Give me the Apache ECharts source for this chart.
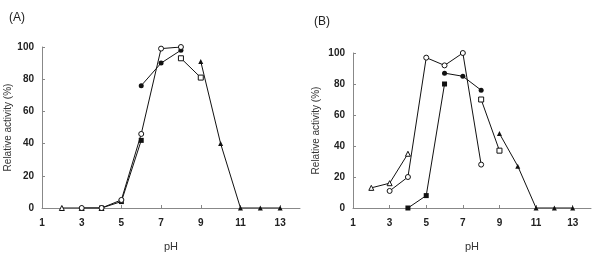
<!DOCTYPE html>
<html>
<head>
    <meta charset="UTF-8">
    <title>pH activity</title>
    <script type="text/javascript" src="https://cdn.jsdelivr.net/npm/echarts@6/dist/echarts.min.js"></script>
    <style>
        html, body { margin: 0; padding: 0; background: #fff; }
    </style>
</head>
<body>
<div id="main" style="width: 593px;height:257px;"></div>
<script type="text/javascript">
    // tick labels
    var xTicks = [1, 3, 5, 7, 9, 11, 13];
    var yTicks = [0, 20, 40, 60, 80, 100];

    // panel (A)
    var aTriOpen = [[2, 0], [3, 0], [4, 0]];
    var aCircleOpen = [[3, 0], [4, 0], [5, 5], [6, 46], [7, 99], [8, 100]];
    var aSquareSolid = [[4, 0], [5, 4], [6, 42]];
    var aCircleSolid = [[6, 76], [7, 90], [8, 98]];
    var aSquareOpen = [[8, 93], [9, 81]];
    var aTriSolid = [[9, 91], [10, 40], [11, 0], [12, 0], [13, 0]];

    // panel (B)
    var bTriOpen = [[2, 13], [3, 16], [4, 35]];
    var bCircleOpen = [[3, 11], [4, 20], [5, 97], [6, 92], [7, 100], [8, 28]];
    var bSquareSolid = [[4, 0], [5, 8], [6, 80]];
    var bCircleSolid = [[6, 87], [7, 85], [8, 76]];
    var bSquareOpen = [[8, 70], [9, 37]];
    var bTriSolid = [[9, 48], [10, 27], [11, 0], [12, 0], [13, 0]];

    var myChart = echarts.init(document.getElementById('main'));

    var font = 'Liberation Sans, Arial, sans-serif';

    function xAxisOf(idx) {
        return {
            type: 'value', gridIndex: idx, min: 1, max: 14, interval: 2,
            name: 'pH', nameLocation: 'middle', nameGap: 33,
            nameTextStyle: {fontFamily: font, fontSize: 11, color: '#333'},
            axisLine: {lineStyle: {color: '#888', width: 1}},
            axisTick: {inside: true, length: 3, customValues: xTicks, lineStyle: {color: '#888'}},
            axisLabel: {customValues: xTicks, margin: 10, fontFamily: font, fontSize: 10, color: '#222', fontWeight: 'bold'},
            splitLine: {show: false}
        };
    }

    function yAxisOf(idx, gap) {
        return {
            type: 'value', gridIndex: idx, min: 0, max: 100, interval: 20,
            name: 'Relative activity (%)', nameLocation: 'middle', nameGap: gap,
            nameTextStyle: {fontFamily: font, fontSize: 10, color: '#333'},
            axisLine: {show: true, lineStyle: {color: '#888', width: 1}},
            axisTick: {show: true, inside: true, length: 3, lineStyle: {color: '#888'}},
            axisLabel: {customValues: yTicks, margin: 8, fontFamily: font, fontSize: 10, color: '#222', fontWeight: 'bold'},
            splitLine: {show: false}
        };
    }

    // hollow markers: white fill with a thin dark outline
    function line(data, symbol, hollow, idx, z) {
        return {
            type: 'line', data: data, xAxisIndex: idx, yAxisIndex: idx,
            symbol: symbol, symbolSize: 5, showAllSymbol: true,
            lineStyle: {color: '#111', width: 1},
            itemStyle: hollow
                ? {color: '#fff', borderColor: '#111', borderWidth: 1}
                : {color: '#111', borderWidth: 0},
            animation: false, z: z || 3
        };
    }

    var option = {
        animation: false,
        title: [
            {text: '(A)', left: 4, top: 7, textStyle: {fontFamily: font, fontSize: 12, fontWeight: 'normal', color: '#222'}},
            {text: '(B)', left: 309, top: 11, textStyle: {fontFamily: font, fontSize: 12, fontWeight: 'normal', color: '#222'}}
        ],
        grid: [
            {left: 42, top: 47, width: 258, height: 163},
            {left: 353, top: 53, width: 238, height: 156}
        ],
        xAxis: [xAxisOf(0), xAxisOf(1)],
        yAxis: [yAxisOf(0, 29), yAxisOf(1, 32)],
        series: [
            line(aTriOpen, 'triangle', true, 0),
            line(aCircleOpen, 'circle', true, 0, 4),
            line(aSquareSolid, 'rect', false, 0),
            line(aCircleSolid, 'circle', false, 0),
            line(aSquareOpen, 'rect', true, 0),
            line(aTriSolid, 'triangle', false, 0),
            line(bTriOpen, 'triangle', true, 1),
            line(bCircleOpen, 'circle', true, 1),
            line(bSquareSolid, 'rect', false, 1),
            line(bCircleSolid, 'circle', false, 1),
            line(bSquareOpen, 'rect', true, 1),
            line(bTriSolid, 'triangle', false, 1)
        ]
    };

    myChart.setOption(option);
</script>
</body>
</html>
